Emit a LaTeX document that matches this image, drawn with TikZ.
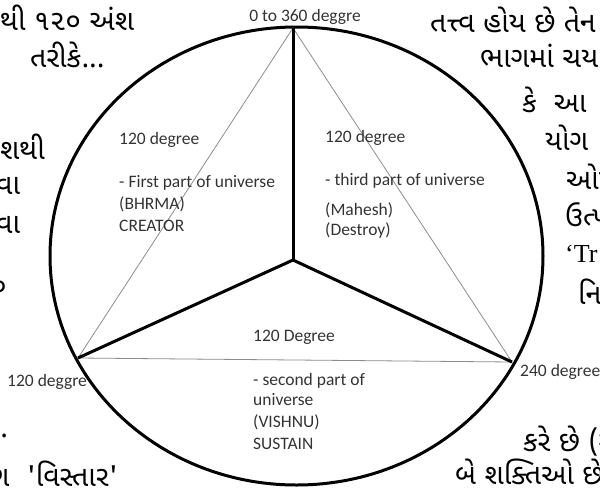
\documentclass[tikz,border=0pt]{standalone}
\usepackage{fontspec}
\setmainfont{Liberation Serif}
\newfontfamily\guj[Script=Gujarati]{Noto Sans Gujarati UI}
\newfontfamily\lblfont{Carlito}
\begin{document}
\begin{tikzpicture}[x=1pt,y=-1pt,
  lbl/.style={font=\lblfont\fontsize{17.5}{22}\selectfont, align=left, inner sep=0pt, anchor=north west, text=black!80},
  deg/.style={font=\lblfont\fontsize{17.5}{20}\selectfont, inner sep=0pt, text=black!80},
  gtext/.style={font=\guj\fontsize{28.5}{32}\selectfont, inner sep=0pt, anchor=west},
  thick spoke/.style={line width=3pt, black},
  thin edge/.style={line width=0.8pt, black!45}]
\useasboundingbox (0,0) rectangle (600,490);
\clip (0,0) rectangle (600,490);
% background Gujarati text fragments
\node[gtext] (g1) at (0,18) {થી ૧૨૦ અંશ};
\node[gtext] (g2) at (30,55) {તરીકે...};
\node[gtext] (g3) at (0,147) {શથી};
\node[gtext] (g4) at (-4,186) {વા};
\node[gtext] (g5) at (-4,225) {વા};
\node[gtext] (g6) at (-9,288) {૦};
\node[gtext] (g7) at (0,436) {.};
\node[gtext] (g8) at (-14,476) {ણ \ 'વિસ્તાર'};
\node[gtext] (r1) at (430,20) {તત્ત્વ હોય છે તેન};
\node[gtext] (r2) at (480,56) {ભાગમાં ચય};
\node[gtext] (r3) at (522,100) {કે \ આ};
\node[gtext] (r4) at (545,138) {યોગ};
\node[gtext] (r5) at (566,177) {ઓપ};
\node[gtext] (r6) at (565,215) {ઉત્પ};
\node[gtext,font=\fontsize{26}{30}\selectfont] (r7) at (565,254) {`Tr};
\node[gtext] (r8) at (578,292) {નિ};
\node[gtext] (r9) at (523,441) {કરે છે (સ};
\node[gtext] (r10) at (455,472) {બે શક્તિઓ છે};
% circle
\draw[line width=3pt] (296.5,256) ellipse [x radius=246.5pt, y radius=229pt];
% vertices
\coordinate (top) at (293,28);
\coordinate (hub) at (293,260);
\coordinate (lv) at (78,358);
\coordinate (rv) at (512,362);
% thin triangle
\draw[thin edge] (top) -- (lv) -- (rv) -- cycle;
% thick spokes
\draw[thick spoke] (top) -- (hub);
\draw[thick spoke] (lv) -- (hub) -- (rv);
% labels
\node[deg, anchor=base] (t0) at (305,21) {0 to 360 deggre};
\node[deg, anchor=base west] (t120) at (7,386) {120 deggre};
\node[deg, anchor=base west] (t240) at (520,376) {240 degree};
\node[lbl] (p1) at (119,132) {120 degree\\[21pt]- First part of universe\\(BHRMA)\\CREATOR};
\node[lbl] (p3) at (325,130) {120 degree\\[21pt]- third part of universe\\[8pt](Mahesh)\\[-2pt](Destroy)};
\node[lbl] (p2) at (253,330) {120 Degree\\[22pt]- second part of\\[-2pt]universe\\(VISHNU)\\SUSTAIN};
\end{tikzpicture}
\end{document}
